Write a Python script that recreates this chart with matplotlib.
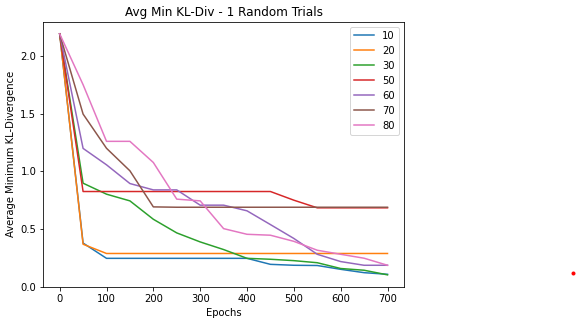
import matplotlib
matplotlib.use("Agg")
import matplotlib.pyplot as plt
from matplotlib.lines import Line2D

epochs = [0, 50, 100, 150, 200, 250, 300, 350, 400, 450, 500, 550, 600, 650, 700]
labels = ["10", "20", "30", "50", "60", "70", "80"]

s10 = [2.19, 0.38, 0.248, 0.248, 0.248, 0.248, 0.248, 0.248, 0.248, 0.196, 0.188, 0.186, 0.153, 0.124, 0.11]
s20 = [2.19, 0.37, 0.29, 0.29, 0.29, 0.29, 0.29, 0.29, 0.29, 0.29, 0.29, 0.29, 0.29, 0.29, 0.29]
s30 = [2.19, 0.898, 0.803, 0.745, 0.586, 0.468, 0.39, 0.324, 0.248, 0.24, 0.228, 0.21, 0.16, 0.145, 0.105]
s50 = [2.19, 0.826, 0.826, 0.826, 0.826, 0.826, 0.826, 0.826, 0.826, 0.826, 0.751, 0.685, 0.685, 0.685, 0.685]
s60 = [2.19, 1.199, 1.057, 0.895, 0.84, 0.84, 0.708, 0.708, 0.659, 0.54, 0.42, 0.283, 0.22, 0.188, 0.188]
s70 = [2.19, 1.496, 1.20, 1.005, 0.693, 0.69, 0.69, 0.69, 0.69, 0.69, 0.69, 0.69, 0.69, 0.69, 0.69]
s80 = [2.19, 1.75, 1.26, 1.26, 1.077, 0.76, 0.745, 0.505, 0.456, 0.448, 0.395, 0.318, 0.283, 0.249, 0.188]

series = [s10, s20, s30, s50, s60, s70, s80]

fig = plt.figure(figsize=(577 / 72, 319 / 72), dpi=72)
ax = fig.add_axes([0.075, 0.1003, 0.625, 0.8317])
for lab, vals in zip(labels, series):
    ax.plot(epochs, vals, label=lab, linewidth=1.5)

ax.set_xlim(-35, 735)
ax.set_ylim(0, 2.295)
ax.set_xticks([0, 100, 200, 300, 400, 500, 600, 700])
ax.set_yticks([0.0, 0.5, 1.0, 1.5, 2.0])
ax.set_title("Avg Min KL-Div - 1 Random Trials")
ax.set_xlabel("Epochs")
ax.set_ylabel("Average Minimum KL-Divergence")
ax.legend(loc="upper right")

# small stray red dot at right edge of the figure
dot_pos = (0.993, 0.145)
fig.add_artist(Line2D([dot_pos[0]], [dot_pos[1]], marker="o", markersize=3,
                      color="red", linestyle="none", transform=fig.transFigure))

fig.savefig("out.png", dpi=72)
